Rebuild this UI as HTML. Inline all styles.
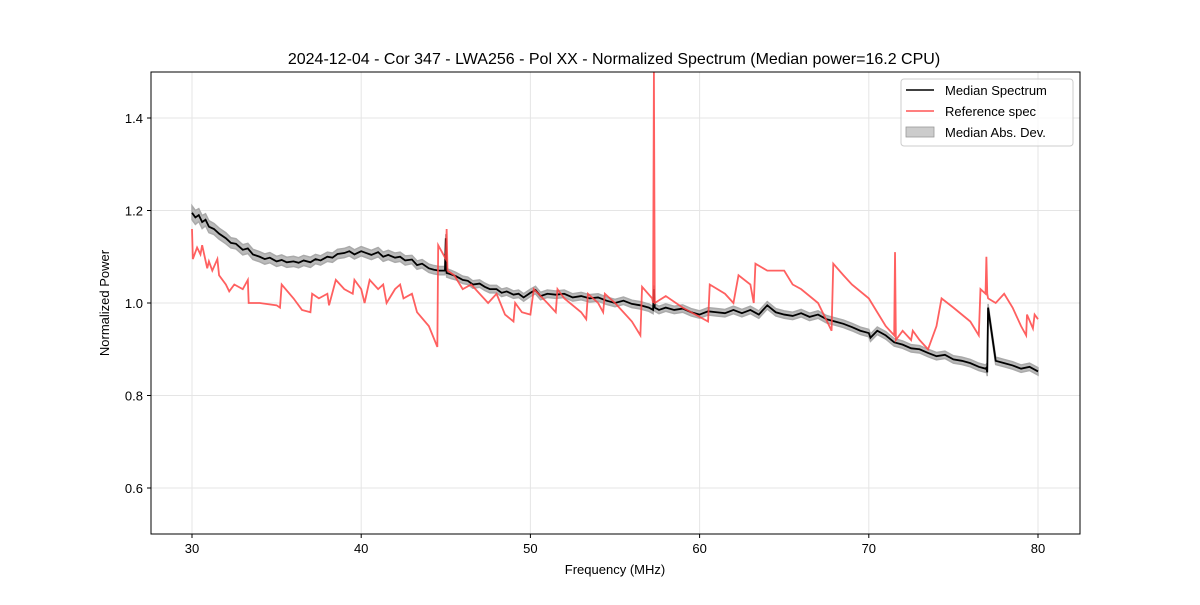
<!DOCTYPE html>
<html><head><meta charset="utf-8"><style>
body{margin:0;background:#fff}
svg{font-family:"Liberation Sans","DejaVu Sans",sans-serif}
</style></head><body>
<svg id="chart" width="1200" height="600" xmlns="http://www.w3.org/2000/svg">
<rect width="1200" height="600" fill="#fff"/>
<text x="614" y="64" font-size="16" text-anchor="middle">2024-12-04 - Cor 347 - LWA256 - Pol XX - Normalized Spectrum (Median power=16.2 CPU)</text>
<g id="grid"></g>
<g id="plot"></g>
<rect x="151" y="72" width="929" height="462" fill="none" stroke="#000" stroke-width="1"/>
<g id="ticks"></g>
<text x="615" y="574" font-size="13" text-anchor="middle">Frequency (MHz)</text>
<text x="109" y="303" font-size="13" text-anchor="middle" transform="rotate(-90 109 303)">Normalized Power</text>
<g>
<rect x="901" y="79" width="172" height="67" rx="3" fill="#fff" fill-opacity="0.8" stroke="#ccc"/>
<g><line x1="906" y1="90" x2="934" y2="90" stroke="#000" stroke-width="1.5"/><text x="945" y="95" font-size="13">Median Spectrum</text></g>
<g><line x1="906" y1="111" x2="934" y2="111" stroke="#ff5555" stroke-width="1.5"/><text x="945" y="116" font-size="13">Reference spec</text></g>
<g><rect x="906" y="127" width="28" height="10" fill="#ccc" stroke="#999" stroke-width="0.8"/><text x="945" y="137" font-size="13">Median Abs. Dev.</text></g>
</g>
</svg>
<script>
const xTicks=[30,40,50,60,70,80];
const yTicks=[0.6,0.8,1.0,1.2,1.4];
const medFreq=[30,30.2,30.4,30.6,30.8,31,31.3,31.6,32,32.3,32.6,33,33.3,33.6,34,34.3,34.6,35,35.3,35.6,36,36.3,36.6,37,37.3,37.6,38,38.3,38.6,39,39.3,39.6,40,40.3,40.6,41,41.3,41.6,42,42.3,42.6,43,43.3,43.6,44,44.3,44.6,44.95,45,45.05,45.3,45.6,46,46.3,46.6,47,47.3,47.6,48,48.3,48.6,49,49.3,49.6,50,50.3,50.6,51,51.5,52,52.5,53,53.5,54,54.5,55,55.5,56,56.5,57,57.25,57.3,57.35,57.6,58,58.5,59,59.5,60,60.5,61,61.5,62,62.5,63,63.5,64,64.5,65,65.5,66,66.5,67,67.5,68,68.5,69,69.5,70,70.1,70.5,71,71.5,72,72.5,73,73.5,74,74.5,75,75.5,76,76.5,76.9,76.95,77,77.05,77.5,78,78.5,79,79.5,80];
const medVal=[1.195,1.185,1.19,1.175,1.18,1.165,1.16,1.15,1.14,1.13,1.128,1.115,1.118,1.105,1.1,1.095,1.098,1.09,1.093,1.088,1.09,1.087,1.092,1.088,1.095,1.092,1.1,1.098,1.106,1.108,1.112,1.105,1.112,1.108,1.104,1.11,1.1,1.104,1.098,1.1,1.092,1.094,1.082,1.085,1.075,1.072,1.07,1.07,1.14,1.065,1.062,1.058,1.05,1.048,1.04,1.042,1.035,1.03,1.03,1.022,1.025,1.018,1.02,1.012,1.022,1.028,1.015,1.02,1.018,1.02,1.012,1.015,1.01,1.012,1.005,1.0,1.005,0.998,0.995,0.99,0.985,1.03,0.99,0.985,0.99,0.985,0.988,0.98,0.975,0.982,0.98,0.978,0.985,0.978,0.985,0.975,0.995,0.98,0.975,0.972,0.978,0.97,0.975,0.965,0.96,0.955,0.948,0.94,0.935,0.925,0.94,0.93,0.915,0.91,0.902,0.9,0.892,0.885,0.888,0.878,0.875,0.87,0.862,0.858,0.86,0.85,0.99,0.875,0.87,0.865,0.858,0.862,0.852,0.848,0.825];
const madVal=[0.015,0.015,0.014,0.014,0.013,0.013,0.012,0.012,0.012,0.011,0.011,0.011,0.011,0.011,0.011,0.011,0.011,0.011,0.011,0.011,0.011,0.011,0.011,0.011,0.01,0.01,0.01,0.01,0.01,0.01,0.01,0.01,0.01,0.01,0.01,0.01,0.01,0.01,0.01,0.01,0.01,0.009,0.009,0.009,0.009,0.009,0.009,0.009,0.009,0.009,0.009,0.008,0.008,0.008,0.008,0.008,0.008,0.008,0.008,0.008,0.008,0.008,0.008,0.008,0.008,0.008,0.008,0.008,0.008,0.008,0.008,0.008,0.008,0.008,0.008,0.008,0.008,0.008,0.008,0.008,0.008,0.008,0.008,0.008,0.008,0.008,0.008,0.008,0.008,0.008,0.008,0.008,0.008,0.008,0.008,0.008,0.008,0.008,0.008,0.008,0.008,0.008,0.008,0.008,0.008,0.008,0.008,0.008,0.008,0.008,0.008,0.008,0.008,0.008,0.008,0.008,0.008,0.008,0.008,0.008,0.008,0.008,0.008,0.008,0.008,0.008,0.008,0.008,0.008,0.008,0.008,0.008,0.008,0.008,0.008];
const refFreq=[30,30.05,30.3,30.5,30.6,30.9,31,31.2,31.5,31.6,32,32.2,32.5,33,33.3,33.35,34,35,35.2,35.3,36,36.5,37,37.1,37.5,38,38.1,38.5,39,39.5,39.6,40,40.2,40.5,41,41.3,41.5,42,42.3,42.5,43,43.3,44,44.5,44.55,45,45.05,45.1,45.5,46,46.5,47,47.5,48,48.5,49,49.1,49.5,50,50.2,51,51.5,51.6,52,53,53.3,53.4,54,54.3,54.4,55,55.5,56,56.5,56.6,57.2,57.25,57.3,57.35,58,59,60,60.5,60.6,61.5,62,62.3,63,63.2,63.3,64,64.5,65,65.5,66,67,67.8,67.9,68.5,69,70,70.5,71,71.5,71.55,71.6,72,72.5,72.6,73,73.5,74,74.3,75,76,76.5,76.6,76.9,76.95,77,77.05,77.5,78,78.5,79,79.3,79.35,79.7,79.8,80];
const refVal=[1.16,1.095,1.12,1.105,1.125,1.075,1.09,1.07,1.095,1.06,1.04,1.025,1.04,1.03,1.05,1.0,1.0,0.995,0.99,1.04,1.01,0.985,0.98,1.02,1.01,1.02,0.995,1.05,1.03,1.02,1.05,1.03,1.0,1.05,1.03,1.04,1.0,1.03,1.04,1.01,1.02,0.98,0.95,0.905,1.125,1.095,1.16,1.07,1.06,1.03,1.04,1.02,1.0,1.02,0.975,0.96,1.0,0.98,0.975,1.03,1.0,0.98,1.03,1.01,0.98,0.965,1.02,1.0,0.98,1.02,1.0,0.98,0.96,0.93,1.035,1.01,1.0,1.5,1.0,1.015,0.99,0.97,0.96,1.04,1.02,1.0,1.06,1.04,1.0,1.085,1.07,1.07,1.07,1.04,1.03,1.0,0.94,1.085,1.06,1.04,1.01,0.98,0.95,0.93,1.11,0.92,0.94,0.92,0.94,0.92,0.9,0.95,1.01,0.99,0.96,0.93,1.03,1.02,1.1,1.02,1.01,1.0,1.02,0.99,0.95,0.93,0.975,0.945,0.975,0.965];
const X=f=>192+(f-30)*16.92;
const Y=v=>303-(v-1.0)*462.5;
const NS="http://www.w3.org/2000/svg";
const grid=document.getElementById('grid'),plot=document.getElementById('plot'),ticks=document.getElementById('ticks');
function mk(tag,attrs,parent){const e=document.createElementNS(NS,tag);for(const k in attrs)e.setAttribute(k,attrs[k]);parent.appendChild(e);return e;}
xTicks.forEach(t=>{
 const g=mk('line',{x1:X(t),x2:X(t),y1:72,y2:534,stroke:'#e5e5e5','stroke-width':1},grid);
 
 
 const tk=mk('line',{x1:X(t),x2:X(t),y1:534,y2:538,stroke:'#000'},ticks);
 
 
 const tl=mk('text',{x:X(t),y:553,'font-size':13,'text-anchor':'middle'},ticks);tl.textContent=t;
 
 
});
yTicks.forEach(t=>{
 const g=mk('line',{x1:151,x2:1080,y1:Y(t),y2:Y(t),stroke:'#e5e5e5','stroke-width':1},grid);
 
 
 const tk=mk('line',{x1:147,x2:151,y1:Y(t),y2:Y(t),stroke:'#000'},ticks);
 
 
 const tl=mk('text',{x:143,y:Y(t)+5,'font-size':13,'text-anchor':'end'},ticks);tl.textContent=t.toFixed(1);
 
 
});
let up=medFreq.map((f,i)=>X(f)+','+Y(medVal[i]+madVal[i]));
let dn=medFreq.map((f,i)=>X(f)+','+Y(medVal[i]-madVal[i])).reverse();
const band=mk('polygon',{points:up.concat(dn).join(' '),fill:'#bbb',stroke:'#aaa','stroke-width':1.5},plot);


const med=mk('polyline',{points:medFreq.map((f,i)=>X(f)+','+Y(medVal[i])).join(' '),fill:'none',stroke:'#000','stroke-width':1.8},plot);


const ref=mk('polyline',{points:refFreq.map((f,i)=>X(f)+','+Math.max(72,Y(refVal[i]))).join(' '),fill:'none',stroke:'#ff4444','stroke-opacity':0.85,'stroke-width':1.8},plot);


</script>
</body></html>
